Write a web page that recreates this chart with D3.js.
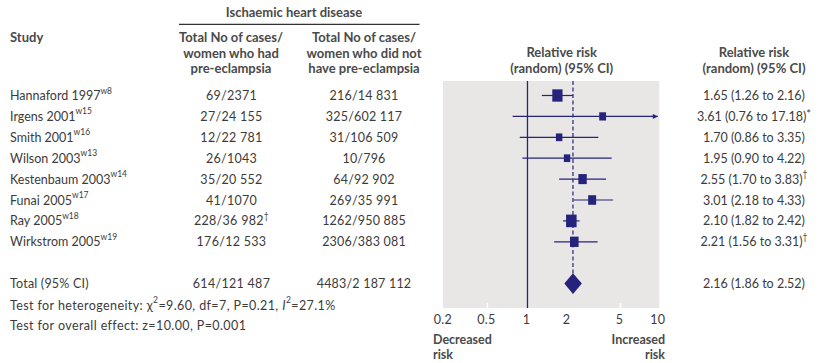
<!DOCTYPE html>
<html><head><meta charset="utf-8">
<script src="https://cdn.jsdelivr.net/npm/d3@7"></script>
<style>
html,body{margin:0;padding:0;background:#fff;}
svg{display:block;font-family:Lato,"Open Sans",sans-serif;}
</style></head>
<body><svg id="c" width="837" height="363"></svg>
<script>
// ---- data ----
const studies = ["Hannaford 1997","Irgens 2001","Smith 2001","Wilson 2003","Kestenbaum 2003","Funai 2005","Ray 2005","Wirkstrom 2005"];
const refs = ["w8","w15","w16","w13","w14","w17","w18","w19"];
const casesPE = ["69/2371","27/24 155","12/22 781","26/1043","35/20 552","41/1070","228/36 982","176/12 533"];
const casesPEmark = ["","","","","","","†",""];
const casesNoPE = ["216/14 831","325/602 117","31/106 509","10/796","64/92 902","269/35 991","1262/950 885","2306/383 081"];
const rr = [1.65,3.61,1.70,1.95,2.55,3.01,2.10,2.21];
const lo = [1.26,0.76,0.86,0.90,1.70,2.18,1.82,1.56];
const hi = [2.16,17.18,3.35,4.22,3.83,4.33,2.42,3.31];
const rrMark = ["","*","","","†","","","†"];
const weights = [19.0,8.5,7.5,7.4,12.7,11.5,20.0,13.4];
const total = {label:"Total (95% CI)", pe:"614/121 487", nope:"4483/2 187 112", rr:2.16, lo:1.86, hi:2.52};
const tickVals = [0.2,0.5,1,2,5,10];
const tickLabels = ["0.2","0.5","1","2","5","10"];
const whiteTicks = [0.5,5];

// ---- layout ----
const svg = d3.select("#c");
const navy = "#25237b", txt = "#3b3b3b", hdr = "#4a4a4a";
const x = d3.scaleLog().domain([0.2,10]).range([435.5,661.5]);
const y = d3.scaleLinear().domain([0,11]).range([95.5,325.4]);
const panel = {x0:443, x1:659.3, y0:81, y1:308};
const fmt = d3.format(".2f");

svg.append("rect").attr("x",panel.x0).attr("y",panel.y0)
  .attr("width",panel.x1-panel.x0).attr("height",panel.y1-panel.y0).attr("fill","#e8e7e6");

function T(xp,yp,anchor,opts={}){
  return svg.append("text").attr("x",xp).attr("y",yp).attr("text-anchor",anchor)
    .attr("dominant-baseline","central")
    .attr("font-size",opts.size||(opts.bold?13:12.5)).attr("font-weight",opts.bold?"bold":"normal")
    .attr("letter-spacing",opts.ls||0)
    .attr("fill",opts.fill||txt);
}
function sup(t,s){
  if(!s) return;
  if(s==="*") t.append("tspan").attr("dy",-3).attr("font-size",11).text(s);
  else t.append("tspan").attr("dy",-5).attr("font-size",8.5).text(s);
}

// headers
T(294,12,"middle",{bold:true,fill:hdr}).text("Ischaemic heart disease");
svg.append("line").attr("x1",179).attr("x2",419.5).attr("y1",24.3).attr("y2",24.3).attr("stroke","#333").attr("stroke-width",1.2);
T(10,37.3,"start",{bold:true,fill:hdr}).text("Study");
[["Total No of cases/","women who had","pre-eclampsia",231],["Total No of cases/","women who did not","have pre-eclampsia",364]].forEach(h=>{
  h.slice(0,3).forEach((s,i)=>T(h[3],37.3+15.5*i,"middle",{bold:true,fill:hdr}).text(s));
});
[561.7,754].forEach(cx=>{
  T(cx,52.3,"middle",{bold:true,fill:hdr}).text("Relative risk");
  T(cx,67.7,"middle",{bold:true,fill:hdr}).text("(random) (95% CI)");
});

// rows text
studies.forEach((s,i)=>{
  const t = T(10,y(i),"start"); t.text(s); sup(t,refs[i]);
  const a = T(231.5,y(i),"middle",{ls:0.3}); a.text(casesPE[i]); sup(a,casesPEmark[i]);
  T(364,y(i),"middle",{ls:0.2}).text(casesNoPE[i]);
  const r = T(754,y(i),"middle"); r.text(`${fmt(rr[i])} (${fmt(lo[i])} to ${fmt(hi[i])})`); sup(r,rrMark[i]);
});
T(10,y(9),"start",{ls:0.2}).text(total.label);
T(231.5,y(9),"middle",{ls:0.3}).text(total.pe);
T(364,y(9),"middle",{ls:0.2}).text(total.nope);
T(754,y(9),"middle").text(`${fmt(total.rr)} (${fmt(total.lo)} to ${fmt(total.hi)})`);

const het = T(10,y(10),"start",{ls:0.4});
het.append("tspan").text("Test for heterogeneity: χ");
het.append("tspan").attr("dy",-5).attr("font-size",8.5).text("2");
het.append("tspan").attr("dy",5).text("=9.60, df=7, P=0.21, ");
het.append("tspan").attr("font-style","italic").text("I");
het.append("tspan").attr("dy",-5).attr("font-size",8.5).text("2");
het.append("tspan").attr("dy",5).text("=27.1%");
T(10,y(11),"start",{ls:0.4}).text("Test for overall effect: z=10.00, P=0.001");

// plot
svg.append("line").attr("x1",x(1)-1).attr("x2",x(1)-1).attr("y1",panel.y0).attr("y2",panel.y1)
  .attr("stroke",navy).attr("stroke-width",1.3);
svg.append("line").attr("x1",x(total.rr)).attr("x2",x(total.rr)).attr("y1",panel.y0).attr("y2",y(9)-10)
  .attr("stroke",navy).attr("stroke-width",1.2).attr("stroke-dasharray","4,2.5");

svg.append("defs").append("marker").attr("id","arr").attr("viewBox","0 0 10 10")
  .attr("refX",10).attr("refY",5).attr("markerWidth",8).attr("markerHeight",5)
  .attr("markerUnits","userSpaceOnUse").attr("orient","auto")
  .append("path").attr("d","M0,0L10,5L0,10Z").attr("fill",navy);

rr.forEach((v,i)=>{
  const x2 = Math.min(x(hi[i]),panel.x1-1.5);
  const ln = svg.append("line").attr("x1",x(lo[i])).attr("x2",x2).attr("y1",y(i)).attr("y2",y(i))
    .attr("stroke",navy).attr("stroke-width",1.2);
  if(x(hi[i])>panel.x1) ln.attr("marker-end","url(#arr)");
  const area = weights[i]*6.62, w = Math.sqrt(area/1.2), h = w*1.2;
  svg.append("rect").attr("x",x(v)-w/2).attr("y",y(i)-h/2).attr("width",w).attr("height",h).attr("fill",navy);
});
const dh = 10.3;
svg.append("path").attr("d",`M${x(total.lo)},${y(9)}L${x(total.rr)},${y(9)-dh}L${x(total.hi)},${y(9)}L${x(total.rr)},${y(9)+dh}Z`).attr("fill",navy);

// white tick marks
whiteTicks.forEach(t=>svg.append("line").attr("x1",x(t)-1).attr("x2",x(t)-1).attr("y1",panel.y1-5).attr("y2",panel.y1)
  .attr("stroke","#fff").attr("stroke-width",1.5));

// axis labels
tickVals.forEach((t,i)=>{
  const px = Math.max(panel.x0, Math.min(panel.x1-1.5, x(t)-2));
  T(px,319,"middle",{ls:0.3}).text(tickLabels[i]);
});
T(433,339.5,"start",{bold:true,fill:hdr,size:12.5}).text("Decreased");
T(433,354.5,"start",{bold:true,fill:hdr,size:12.5}).text("risk");
T(665,339.5,"end",{bold:true,fill:hdr,size:12.5}).text("Increased");
T(665,354.5,"end",{bold:true,fill:hdr,size:12.5}).text("risk");
</script></body></html>
